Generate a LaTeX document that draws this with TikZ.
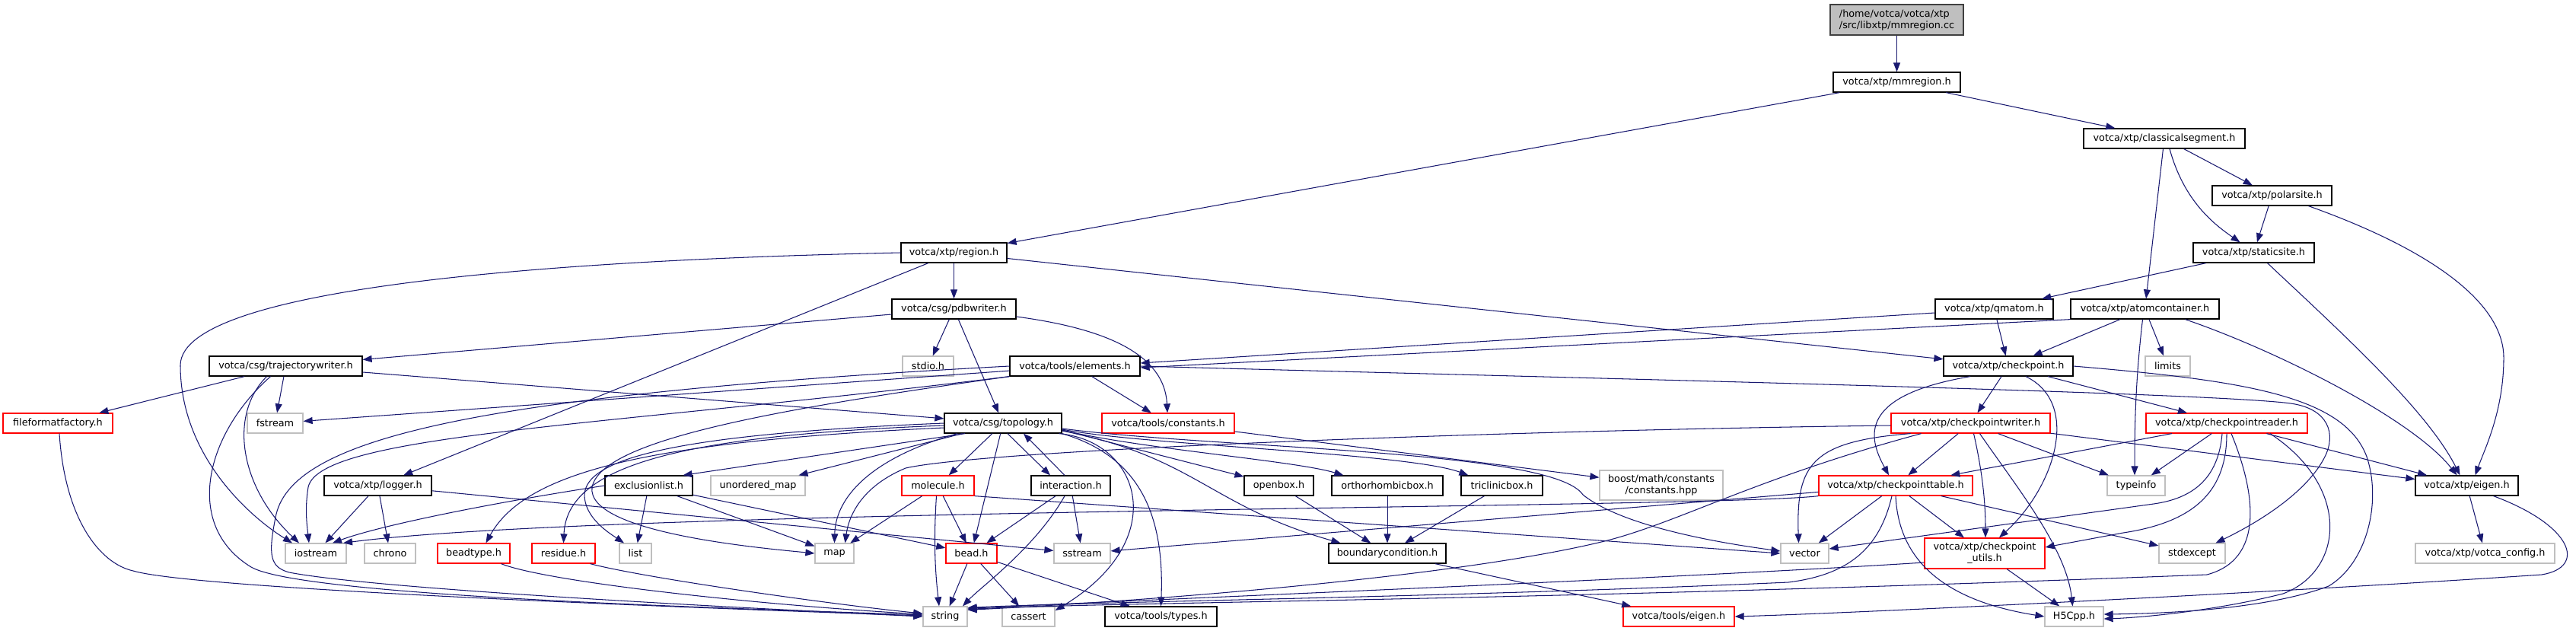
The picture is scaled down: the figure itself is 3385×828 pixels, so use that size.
\documentclass[tikz,border=0pt]{standalone}
\usepackage{fontspec}
\setmainfont{DejaVu Sans}
\usetikzlibrary{arrows.meta}
\definecolor{edgec}{HTML}{191970}
\definecolor{grayc}{HTML}{BFBFBF}
\definecolor{redc}{HTML}{FF0000}
\definecolor{rootfill}{HTML}{BFBFBF}
\definecolor{rootdraw}{HTML}{404040}
\tikzset{
  nd/.style={draw, rectangle, minimum height=26pt, inner sep=0pt, line width=1.25pt, font=\fontsize{12.8}{15}\selectfont, anchor=center},
  blk/.style={nd, draw=black},
  rd/.style={nd, draw=redc},
  gry/.style={nd, draw=grayc},
  edg/.style={draw=edgec, line width=1.05pt, -{Triangle[length=12pt,width=9pt]}},
}
\begin{document}
\begin{tikzpicture}[x=1pt,y=-1pt]
\useasboundingbox (0,0) rectangle (3385,828);
% nodes
\node[nd, fill=rootfill, draw=rootdraw, minimum width=175pt, minimum height=40pt, align=left] (root) at (2492.5,26) {/home/votca/votca/xtp\\/src/libxtp/mmregion.cc};
\node[blk, minimum width=167pt] (mmr) at (2492.5,108) {votca/xtp/mmregion.h};
\node[blk, minimum width=212pt] (cls) at (2844,182) {votca/xtp/classicalsegment.h};
\node[blk, minimum width=157pt] (pol) at (2985.5,257) {votca/xtp/polarsite.h};
\node[blk, minimum width=159pt] (sta) at (2961.5,332) {votca/xtp/staticsite.h};
\node[blk, minimum width=139pt] (reg) at (1253.5,332) {votca/xtp/region.h};
\node[blk, minimum width=163pt] (pdb) at (1253.5,406) {votca/csg/pdbwriter.h};
\node[blk, minimum width=155pt] (qma) at (2620.5,406) {votca/xtp/qmatom.h};
\node[blk, minimum width=195pt] (atc) at (2818.5,406) {votca/xtp/atomcontainer.h};
\node[blk, minimum width=201pt] (trj) at (375.5,481) {votca/csg/trajectorywriter.h};
\node[gry, minimum width=67pt] (stdio) at (1219.5,481) {stdio.h};
\node[blk, minimum width=171pt] (ele) at (1412.5,481) {votca/tools/elements.h};
\node[blk, minimum width=170pt] (chk) at (2639,481) {votca/xtp/checkpoint.h};
\node[gry, minimum width=59pt] (lim) at (2848.5,481) {limits};
\node[rd, minimum width=144pt] (fff) at (76,556) {fileformatfactory.h};
\node[gry, minimum width=73pt] (fst) at (361.5,556) {fstream};
\node[blk, minimum width=154pt] (top) at (1318,556) {votca/csg/topology.h};
\node[rd, minimum width=174pt] (con) at (1535,556) {votca/tools/constants.h};
\node[rd, minimum width=209pt] (cpw) at (2589.5,556) {votca/xtp/checkpointwriter.h};
\node[rd, minimum width=212pt] (cpr) at (2926,556) {votca/xtp/checkpointreader.h};
\node[blk, minimum width=141pt] (log) at (496.5,638) {votca/xtp/logger.h};
\node[blk, minimum width=115pt] (exc) at (852.5,638) {exclusionlist.h};
\node[gry, minimum width=124pt] (umap) at (996,638) {unordered\_map};
\node[rd, minimum width=95pt] (mol) at (1232.5,638) {molecule.h};
\node[blk, minimum width=104pt] (inter) at (1407,638) {interaction.h};
\node[blk, minimum width=91pt] (obox) at (1680.5,638) {openbox.h};
\node[blk, minimum width=146pt] (obb) at (1823,638) {orthorhombicbox.h};
\node[blk, minimum width=107pt] (tbox) at (1973.5,638) {triclinicbox.h};
\node[gry, minimum width=162pt, minimum height=39pt, align=center] (boost) at (2183,637.5) {boost/math/constants\\/constants.hpp};
\node[rd, minimum width=202pt] (cpt) at (2491,638) {votca/xtp/checkpointtable.h};
\node[gry, minimum width=76pt] (tinfo) at (2807,638) {typeinfo};
\node[blk, minimum width=135pt] (xeig) at (3241.5,638) {votca/xtp/eigen.h};
\node[gry, minimum width=80pt] (ios) at (415,727) {iostream};
\node[gry, minimum width=67pt] (chr) at (512.5,727) {chrono};
\node[rd, minimum width=95pt] (btype) at (622.5,727) {beadtype.h};
\node[rd, minimum width=83pt] (res) at (740.5,727) {residue.h};
\node[gry, minimum width=42pt] (lst) at (835,727) {list};
\node[gry, minimum width=51pt] (mp) at (1096.5,727) {map};
\node[rd, minimum width=67pt] (bead) at (1276.5,727) {bead.h};
\node[gry, minimum width=74pt] (sst) at (1422,727) {sstream};
\node[blk, minimum width=154pt] (bc) at (1823,727) {boundarycondition.h};
\node[gry, minimum width=63pt] (vec) at (2371.5,727) {vector};
\node[rd, minimum width=158pt, minimum height=40pt, align=center] (cpu) at (2608,727) {votca/xtp/checkpoint\\\_utils.h};
\node[gry, minimum width=87pt] (sexc) at (2880.5,727) {stdexcept};
\node[gry, minimum width=183pt] (vcfg) at (3265.5,727) {votca/xtp/votca\_config.h};
\node[gry, minimum width=58pt] (str) at (1242,810) {string};
\node[gry, minimum width=69pt] (cas) at (1351.5,810) {cassert};
\node[blk, minimum width=147pt] (typ) at (1525.5,810) {votca/tools/types.h};
\node[rd, minimum width=146pt] (teig) at (2206,810) {votca/tools/eigen.h};
\node[gry, minimum width=77pt] (h5) at (2725.5,810) {H5Cpp.h};
% edges: top part
\draw[edg] (root) -- (mmr);
\draw[edg] (mmr) -- (reg);
\draw[edg] (mmr) -- (cls);
\draw[edg] (cls) -- (pol);
\draw[edg] ([xshift=7pt]cls.south) .. controls (2870,265) and (2910,295) .. ([xshift=-18pt]sta.north);
\draw[edg] (cls) -- (atc);
\draw[edg] (pol) -- (sta);
\draw[edg] ([xshift=48pt]pol.south) .. controls (3200,330) and (3290,400) .. (3290,470) .. controls (3290,540) and (3265,590) .. ([xshift=11pt]xeig.north);
\draw[edg] (sta) -- (qma);
\draw[edg] ([xshift=18pt]sta.south) .. controls (3080,440) and (3190,540) .. ([xshift=-9pt]xeig.north);
% region
\draw[edg] (reg) -- (pdb);
\draw[edg] (reg) -- (log);
\draw[edg] (reg.west) .. controls (800,340) and (237,370) .. (237,480) .. controls (237,600) and (330,680) .. ([xshift=-31pt]ios.north);
\draw[edg] (reg) -- (chk);
% pdbwriter
\draw[edg] (pdb) -- (stdio);
\draw[edg] (pdb) -- (top);
\draw[edg] (pdb) -- (trj);
\draw[edg] ([yshift=-10pt]pdb.east) .. controls (1440,430) and (1530,460) .. ([xshift=-1pt]con.north);
% trajectorywriter
\draw[edg] (trj) -- (fff);
\draw[edg] (trj) -- (fst);
\draw[edg] ([xshift=-25pt]trj.south) .. controls (300,545) and (315,640) .. ([xshift=-22pt]ios.north);
\draw[edg] ([xshift=-20pt]trj.south) .. controls (270,570) and (240,690) .. (330,745) .. controls (400,785) and (1000,800) .. ([yshift=2pt]str.west);
\draw[edg] (trj) -- (top);
\draw[edg] ([xshift=2pt]fff.south) .. controls (85,680) and (130,740) .. (175,750) .. controls (260,775) and (950,800) .. ([yshift=1pt]str.west);
% elements
\draw[edg] (ele) -- (con);
\draw[edg] (ele) -- (fst);
\draw[edg] (ele.south west) .. controls (800,560) and (420,570) .. (405,640) .. controls (400,670) and (404,695) .. ([xshift=-9pt]ios.north);
\draw[edg] (ele.west) .. controls (600,520) and (380,580) .. (362,680) .. controls (352,730) and (355,745) .. (380,752) .. controls (500,775) and (1000,800) .. (str.west);
\draw[edg] (ele.south west) .. controls (1000,540) and (790,580) .. (778,640) .. controls (770,700) and (1000,720) .. (mp.west);
\draw[edg] (ele.east) .. controls (2000,495) and (2900,515) .. (3010,530) .. controls (3060,537) and (3070,570) .. (3055,600) .. controls (3030,650) and (2960,690) .. ([xshift=31pt]sexc.north);
% qmatom / atomcontainer
\draw[edg] (atc.south west) -- ([yshift=-2pt]ele.east);
\draw[edg] ([yshift=-5pt]qma.west) -- ([yshift=4pt]ele.east);
\draw[edg] (qma) -- (chk);
\draw[edg] (atc) -- (chk);
\draw[edg] (atc) -- (lim);
\draw[edg] ([xshift=-3pt]atc.south) .. controls (2806,500) and (2805,560) .. ([xshift=-2pt]tinfo.north);
\draw[edg] ([xshift=53pt]atc.south) .. controls (2990,460) and (3170,550) .. ([xshift=-13pt]xeig.north);
% checkpoint
\draw[edg] (chk) -- (cpw);
\draw[edg] ([xshift=-50pt]chk.south) .. controls (2440,520) and (2455,575) .. ([xshift=-9pt]cpt.north);
\draw[edg] ([xshift=23pt]chk.south) .. controls (2735,530) and (2700,640) .. ([xshift=19pt]cpu.north);
\draw[edg] (chk) -- (cpr);
\draw[edg] (chk.east) .. controls (2950,500) and (3080,520) .. (3110,600) .. controls (3130,660) and (3110,740) .. (3060,770) .. controls (2980,800) and (2850,806) .. ([yshift=3pt]h5.east);
% checkpointwriter
\draw[edg] (cpw) -- (cpt);
\draw[edg] (cpw) -- (tinfo);
\draw[edg] ([xshift=4pt]cpw.south) .. controls (2605,620) and (2609,660) .. ([xshift=1pt]cpu.north);
\draw[edg] ([xshift=12pt]cpw.south) .. controls (2650,640) and (2715,720) .. ([xshift=-2pt]h5.north);
\draw[edg] ([xshift=-79pt]cpw.south) .. controls (2380,580) and (2360,610) .. ([xshift=-8pt]vec.north);
\draw[edg] ([yshift=-3pt]cpw.west) .. controls (2000,565) and (1300,590) .. (1190,615) .. controls (1130,640) and (1115,680) .. ([xshift=14pt]mp.north);
\draw[edg] ([xshift=-65pt]cpw.south) .. controls (2300,630) and (2200,690) .. (2100,713) .. controls (1900,760) and (1500,790) .. ([yshift=-5pt]str.north east);
\draw[edg] (cpw) -- (xeig);
% checkpointreader
\draw[edg] (cpr) -- (cpt);
\draw[edg] (cpr) -- (tinfo);
\draw[edg] ([xshift=-6pt]cpr.south) .. controls (2915,630) and (2880,655) .. (2830,662) -- ([yshift=6pt]vec.east);
\draw[edg] (cpr.south) .. controls (2926,640) and (2890,685) .. (2790,700) -- ([yshift=8pt]cpu.east);
\draw[edg] ([xshift=6pt]cpr.south) .. controls (2965,650) and (2975,735) .. (2900,755) .. controls (2000,790) and (1500,790) .. ([yshift=-4pt]str.north east);
\draw[edg] (cpr) -- (xeig);
\draw[edg] ([xshift=57pt]cpr.south) .. controls (3090,640) and (3080,750) .. (3000,780) .. controls (2900,805) and (2800,812) .. ([yshift=-3pt]h5.east);
% checkpointtable
\draw[edg] (cpt) -- (vec);
\draw[edg] (cpt) -- (cpu);
\draw[edg] (cpt.south) .. controls (2495,740) and (2560,790) .. (h5.west);
\draw[edg] ([xshift=-5pt]cpt.south) .. controls (2470,720) and (2430,755) .. (2350,765) .. controls (1900,785) and (1450,790) .. ([yshift=-2pt]str.north east);
\draw[edg] (cpt.south west) .. controls (2250,668) and (800,668) .. ([xshift=36pt]ios.north);
\draw[edg] (cpt) -- (sst);
\draw[edg] (cpt) -- (sexc);
% checkpoint_utils
\draw[edg] (cpu) -- (h5);
\draw[edg] ([yshift=-12pt]cpu.west) .. controls (2200,760) and (1500,788) .. ([yshift=-3pt]str.north east);
% eigen
\draw[edg] (xeig) -- (vcfg);
\draw[edg] ([xshift=35pt]xeig.south) .. controls (3380,690) and (3400,745) .. (3340,755) .. controls (3000,778) and (2450,805) .. (teig.east);
% boxes
\draw[edg] (bc) -- (teig);
\draw[edg] (obox) -- (bc);
\draw[edg] (obb) -- (bc);
\draw[edg] (tbox) -- (bc);
\draw[edg] (con) -- (boost);
% topology
\draw[edg] (top) -- (mol);
\draw[edg] (top) -- (bead);
\draw[edg] ([xshift=6pt]top.south) -- ([xshift=-27pt]inter.north);
\draw[edg] ([xshift=-8pt]inter.north) -- ([xshift=27pt]top.south);
\draw[edg] (top.south east) .. controls (1500,600) and (1530,680) .. (typ.north);
\draw[edg] ([xshift=-4pt]top.south east) .. controls (1500,580) and (1540,710) .. ([yshift=8pt]cas.east);
\draw[edg] ([yshift=-10pt]top.east) .. controls (1570,600) and (1590,665) .. ([xshift=16pt]bc.north west);
\draw[edg] ([yshift=-9pt]top.east) -- (obox);
\draw[edg] ([yshift=-9pt]top.east) .. controls (1500,590) and (1700,605) .. ([xshift=16pt]obb.north west);
\draw[edg] ([yshift=-8pt]top.east) .. controls (1500,585) and (1850,595) .. ([xshift=10pt]tbox.north west);
\draw[edg] ([yshift=-7pt]top.east) .. controls (1600,590) and (2040,590) .. (2080,650) .. controls (2130,690) and (2250,712) .. ([yshift=3pt]vec.west);
\draw[edg] ([xshift=-50pt]top.south) -- ([xshift=45pt]exc.north);
\draw[edg] (top) -- (umap);
\draw[edg] ([xshift=-60pt]top.south) .. controls (1150,600) and (1098,650) .. (mp.north);
\draw[edg] (top.west) .. controls (900,570) and (770,600) .. (768,650) .. controls (768,680) and (800,700) .. ([xshift=-15pt]lst.north);
\draw[edg] ([yshift=-3pt]top.west) .. controls (900,572) and (745,610) .. (res.north);
\draw[edg] ([yshift=-6pt]top.west) .. controls (850,580) and (690,620) .. ([xshift=16pt]btype.north);
% interaction / molecule / bead
\draw[edg] (inter) -- (bead);
\draw[edg] ([xshift=-8pt]inter.south) .. controls (1360,720) and (1290,770) .. ([xshift=23pt]str.north);
\draw[edg] (inter) -- (sst);
\draw[edg] (mol) -- (bead);
\draw[edg] (mol) -- (mp);
\draw[edg] ([xshift=-2pt]mol.south) .. controls (1226,720) and (1230,760) .. ([xshift=-8pt]str.north);
\draw[edg] (mol.south east) -- (vec.west);
\draw[edg] (bead) -- (str);
\draw[edg] (bead) -- (cas);
\draw[edg] (bead) -- (typ);
% small headers
\draw[edg] ([xshift=36pt]btype.south) .. controls (720,765) and (1000,795) .. ([yshift=3pt]str.west);
\draw[edg] ([xshift=35pt]res.south) .. controls (850,760) and (1100,795) .. ([yshift=4pt]str.west);
\draw[edg] (log) -- (ios);
\draw[edg] (log) -- (chr);
\draw[edg] (log) -- (sst);
\draw[edg] (exc) -- (lst);
\draw[edg] (exc) -- (mp);
\draw[edg] (exc) -- (bead);
\draw[edg] (exc.west) .. controls (650,660) and (500,690) .. ([xshift=22pt]ios.north);
\end{tikzpicture}
\end{document}
